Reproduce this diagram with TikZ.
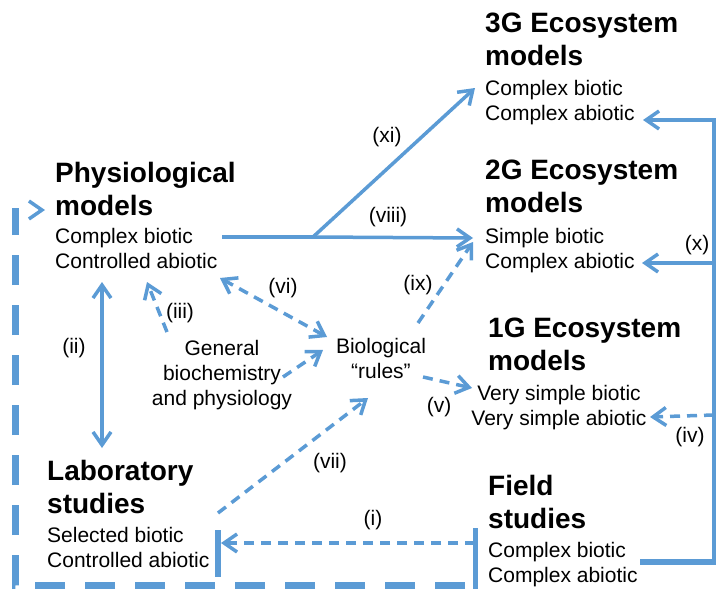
\documentclass[tikz,border=0pt]{standalone}
\usepackage{fontspec}
\setmainfont{Liberation Sans}
\usetikzlibrary{arrows.meta}
\definecolor{lnblue}{RGB}{91,155,213}
\begin{document}
\begin{tikzpicture}[x=1pt,y=-1pt,
  head/.style={font=\fontsize{28}{33}\selectfont\bfseries, align=left, inner sep=0pt, anchor=base west},
  body/.style={font=\fontsize{21}{25}\selectfont, align=left, inner sep=0pt, anchor=base west},
  lbl/.style={font=\fontsize{21}{25}\selectfont, inner sep=0pt},
  conn/.style={draw=lnblue, line width=3.5pt},
  dashconn/.style={draw=lnblue, line width=3.5pt, dash pattern=on 10pt off 7pt},
  thickdash/.style={draw=lnblue, line width=7pt, dash pattern=on 30pt off 20pt, dash phase=40pt},
  chev/.style={-{Straight Barb[length=13pt,width=18pt,line width=3.5pt]}},
  dchev/.style={{Straight Barb[length=13pt,width=18pt,line width=3.5pt]}-{Straight Barb[length=13pt,width=18pt,line width=3.5pt]}},
  noshaft/.style={draw=lnblue, line width=3.5pt, dash pattern=on 0pt off 200pt}
]
\useasboundingbox (0,0) rectangle (716,589);

% ---------- text nodes (base = baseline of last line) ----------
\node[head] (physH) at (55,215) {Physiological\\models};
\node[body] (physB) at (55,268) {Complex biotic\\Controlled abiotic};
\node[head] (g3H) at (485,65) {3G Ecosystem\\models};
\node[body] (g3B) at (485,120) {Complex biotic\\Complex abiotic};
\node[head] (g2H) at (485,212) {2G Ecosystem\\models};
\node[body] (g2B) at (485,268) {Simple biotic\\Complex abiotic};
\node[head] (g1H) at (488,370) {1G Ecosystem\\models};
\node[body, align=center, anchor=base] (g1B) at (559,425) {Very simple biotic\\Very simple abiotic};
\node[head] (fieldH) at (488,528) {Field\\studies};
\node[body] (fieldB) at (488,582) {Complex biotic\\Complex abiotic};
\node[head] (labH) at (47,513) {Laboratory\\studies};
\node[body] (labB) at (47,567) {Selected biotic\\Controlled abiotic};
\node[body, align=center, anchor=base] (bio) at (381,378) {Biological\\“rules”};
\node[body, align=center, anchor=base] (gen) at (222,405) {General\\biochemistry\\and physiology};

% ---------- labels ----------
\node[lbl] (lxi) at (387,137) {(xi)};
\node[lbl] (lviii) at (388,217) {(viii)};
\node[lbl] (lx) at (697,245) {(x)};
\node[lbl] (lix) at (418,285) {(ix)};
\node[lbl] (lvi) at (283,288) {(vi)};
\node[lbl] (liii) at (180,313) {(iii)};
\node[lbl] (lii) at (74,348) {(ii)};
\node[lbl] (lv) at (439,407) {(v)};
\node[lbl] (liv) at (690,437) {(iv)};
\node[lbl] (lvii) at (330,463) {(vii)};
\node[lbl] (li) at (373,520) {(i)};

% ---------- connector points ----------
\coordinate (physOut) at (222,237);
\coordinate (branch) at (313,237);
\coordinate (g3In) at (475,88);
\coordinate (g2In) at (473,238);
\coordinate (fieldOut) at (640,562);
\coordinate (rcBot) at (714,562);
\coordinate (rcTop) at (714,120);
\coordinate (g3Rin) at (643,120);
\coordinate (rcMid) at (714,263);
\coordinate (g2Rin) at (642,263);
\coordinate (ivStart) at (714,415);
\coordinate (g1Rin) at (650,417);
\coordinate (physBot) at (102,282);
\coordinate (labTop) at (102,448);
\coordinate (genTop) at (167,332);
\coordinate (physIn3) at (147,282);
\coordinate (physIn6) at (220,278);
\coordinate (bioIn6) at (327,337);
\coordinate (genOut) at (283,377);
\coordinate (bioInG) at (323,350);
\coordinate (bioOut) at (423,377);
\coordinate (g1In) at (472,388);
\coordinate (bioOut9) at (418,323);
\coordinate (g2In9) at (473,242);
\coordinate (labOut) at (218,513);
\coordinate (bioIn7) at (368,398);
\coordinate (fieldBarTop) at (475,528);
\coordinate (fieldBarBot) at (475,589);
\coordinate (labBarTop) at (218,530);
\coordinate (labBarBot) at (218,577);
\coordinate (fieldI) at (475,543);
\coordinate (labIn) at (221,543);
\coordinate (bottomStart) at (475,585);
\coordinate (cornerBL) at (15,585);
\coordinate (leftTop) at (15,208);
\coordinate (leftArr) at (15,210);
\coordinate (physIn) at (45,210);

% ---------- solid connectors ----------
\draw[conn] (physOut) -- (branch);
\draw[conn, chev] (branch) -- (g3In);
\draw[conn, chev] (branch) -- (g2In);
\draw[draw=lnblue, line width=6pt] (fieldOut) -- ([xshift=2pt]rcBot);
\draw[conn, line width=4pt, chev] (rcBot) -- (rcTop) -- (g3Rin);
\draw[conn, chev] (rcMid) -- (g2Rin);
\draw[conn, dchev] (physBot) -- (labTop);

% ---------- dashed connectors ----------
\draw[dashconn, chev] (ivStart) -- (g1Rin);
\draw[dashconn, chev] (genTop) -- (physIn3);
\draw[dashconn, dchev] (physIn6) -- (bioIn6);
\draw[dashconn, chev] (genOut) -- (bioInG);
\draw[dashconn, chev] (bioOut) -- (g1In);
\draw[dashconn, chev] (bioOut9) -- (g2In9);
\draw[dashconn, chev] (labOut) -- (bioIn7);
\draw[dashconn, chev] (fieldI) -- (labIn);

% ---------- bars ----------
\draw[draw=lnblue, line width=5pt] (fieldBarTop) -- (fieldBarBot);
\draw[draw=lnblue, line width=6pt] (labBarTop) -- (labBarBot);

% ---------- thick dashed return ----------
\draw[thickdash] (bottomStart) -- (cornerBL) -- (leftTop);
\draw[noshaft, chev] (leftArr) -- (physIn);
\end{tikzpicture}
\end{document}
